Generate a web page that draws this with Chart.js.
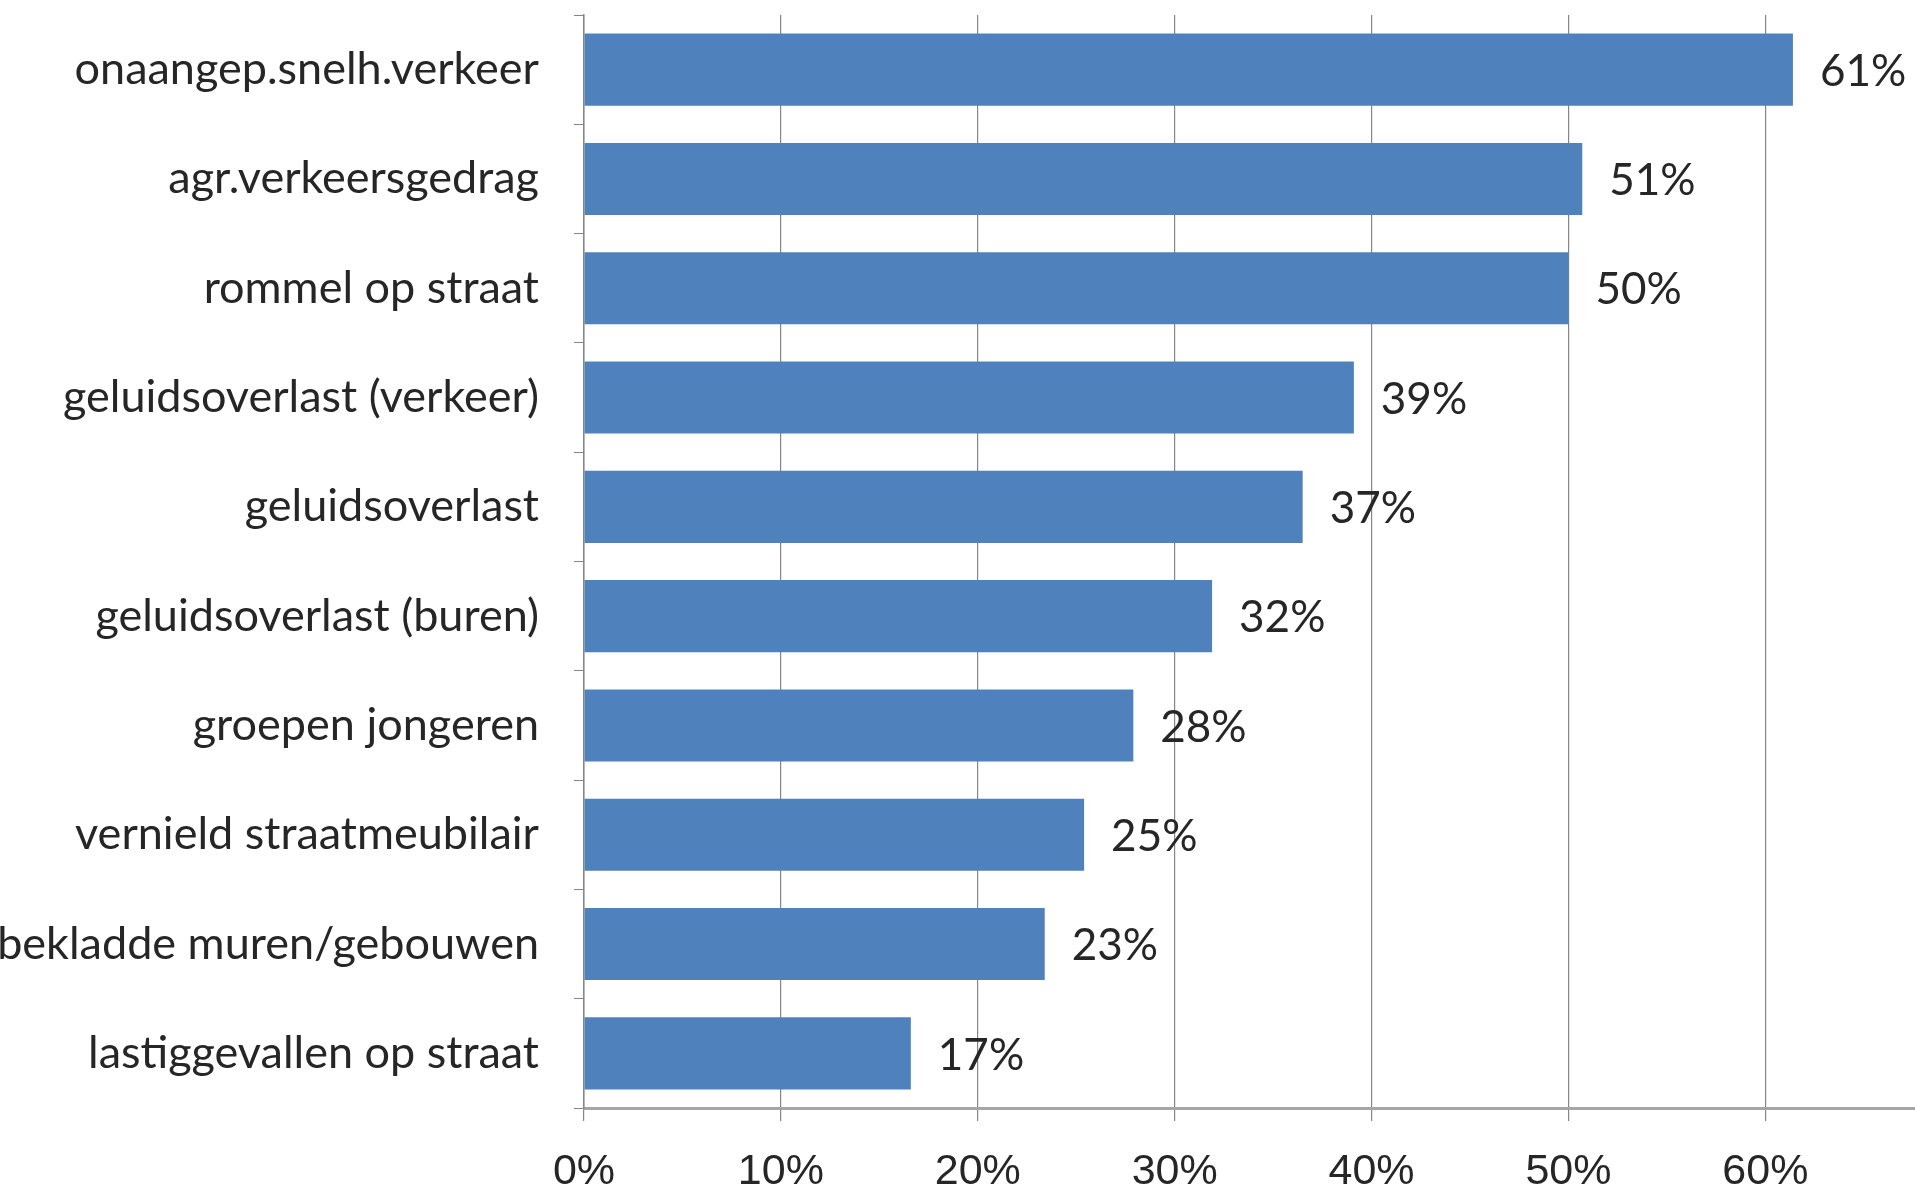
<!DOCTYPE html>
<html>
<head>
<meta charset="utf-8">
<script src="https://cdn.jsdelivr.net/npm/chart.js@4.4.1/dist/chart.umd.min.js"></script>
<style>
  html, body { margin: 0; padding: 0; background: #fff; }
  canvas { display: block; }
</style>
</head>
<body>
<canvas id="chartCanvas" width="1915" height="1188"></canvas>
<script>
// categories, top to bottom
const categories = [
    'onaangep.snelh.verkeer',
    'agr.verkeersgedrag',
    'rommel op straat',
    'geluidsoverlast (verkeer)',
    'geluidsoverlast',
    'geluidsoverlast (buren)',
    'groepen jongeren',
    'vernield straatmeubilair',
    'bekladde muren/gebouwen',
    'lastiggevallen op straat'
];
// percentages
const values = [61.4, 50.7, 50.0, 39.1, 36.5, 31.9, 27.9, 25.4, 23.4, 16.6];
// printed labels next to the bars
const valueLabels = ['61%', '51%', '50%', '39%', '37%', '32%', '28%', '25%', '23%', '17%'];
// x axis ticks
const xTicks = [0, 10, 20, 30, 40, 50, 60];

const labelFont = '44px Lato, "Open Sans", sans-serif';

// draws the percentage text just right of each bar end
const valueLabelPlugin = {
    id: 'valueLabels',
    afterDatasetsDraw(chart) {
        const ctx = chart.ctx;
        const meta = chart.getDatasetMeta(0);
        ctx.save();
        ctx.font = labelFont;
        ctx.fillStyle = '#262626';
        ctx.textAlign = 'left';
        ctx.textBaseline = 'middle';
        meta.data.forEach((bar, i) => {
            ctx.fillText(valueLabels[i], bar.x + 27, bar.y + 2);
        });
        ctx.restore();
    }
};

const ctx = document.getElementById('chartCanvas').getContext('2d');
new Chart(ctx, {
    type: 'bar',
    data: {
        labels: categories,
        datasets: [{
            data: values,
            backgroundColor: '#4f81bd',
            borderWidth: 0,
            categoryPercentage: 1,
            barPercentage: 0.66
        }]
    },
    options: {
        indexAxis: 'y',
        responsive: false,
        animation: false,
        layout: { padding: { top: 15, right: 0, left: 0, bottom: 0 } },
        plugins: {
            legend: { display: false },
            tooltip: { enabled: false }
        },
        scales: {
            x: {
                min: 0,
                max: 67.6,
                afterBuildTicks: scale => {
                    scale.ticks = xTicks.map(v => ({ value: v }));
                },
                afterFit: scale => {
                    scale.height = 80;
                    scale.paddingLeft = 0;
                    scale.paddingRight = 0;
                },
                grid: {
                    color: '#868686',
                    lineWidth: 1.2,
                    tickLength: 13,
                    tickColor: '#868686'
                },
                border: { color: '#a6a6a6', width: 3 },
                ticks: {
                    padding: 25,
                    color: '#262626',
                    font: { family: '"Liberation Sans Narrow", "Liberation Sans", sans-serif', size: 43 },
                    callback: value => value + '%'
                }
            },
            y: {
                afterFit: scale => {
                    scale.width = 584;
                    scale.paddingTop = 0;
                    scale.paddingBottom = 0;
                },
                grid: {
                    drawOnChartArea: false,
                    offset: true,
                    tickLength: 10,
                    tickColor: '#868686'
                },
                border: { color: '#868686', width: 1.5 },
                ticks: {
                    padding: 35,
                    color: '#262626',
                    font: { family: 'Lato, "Open Sans", sans-serif', size: 45 }
                }
            }
        }
    },
    plugins: [valueLabelPlugin]
});
</script>
</body>
</html>
